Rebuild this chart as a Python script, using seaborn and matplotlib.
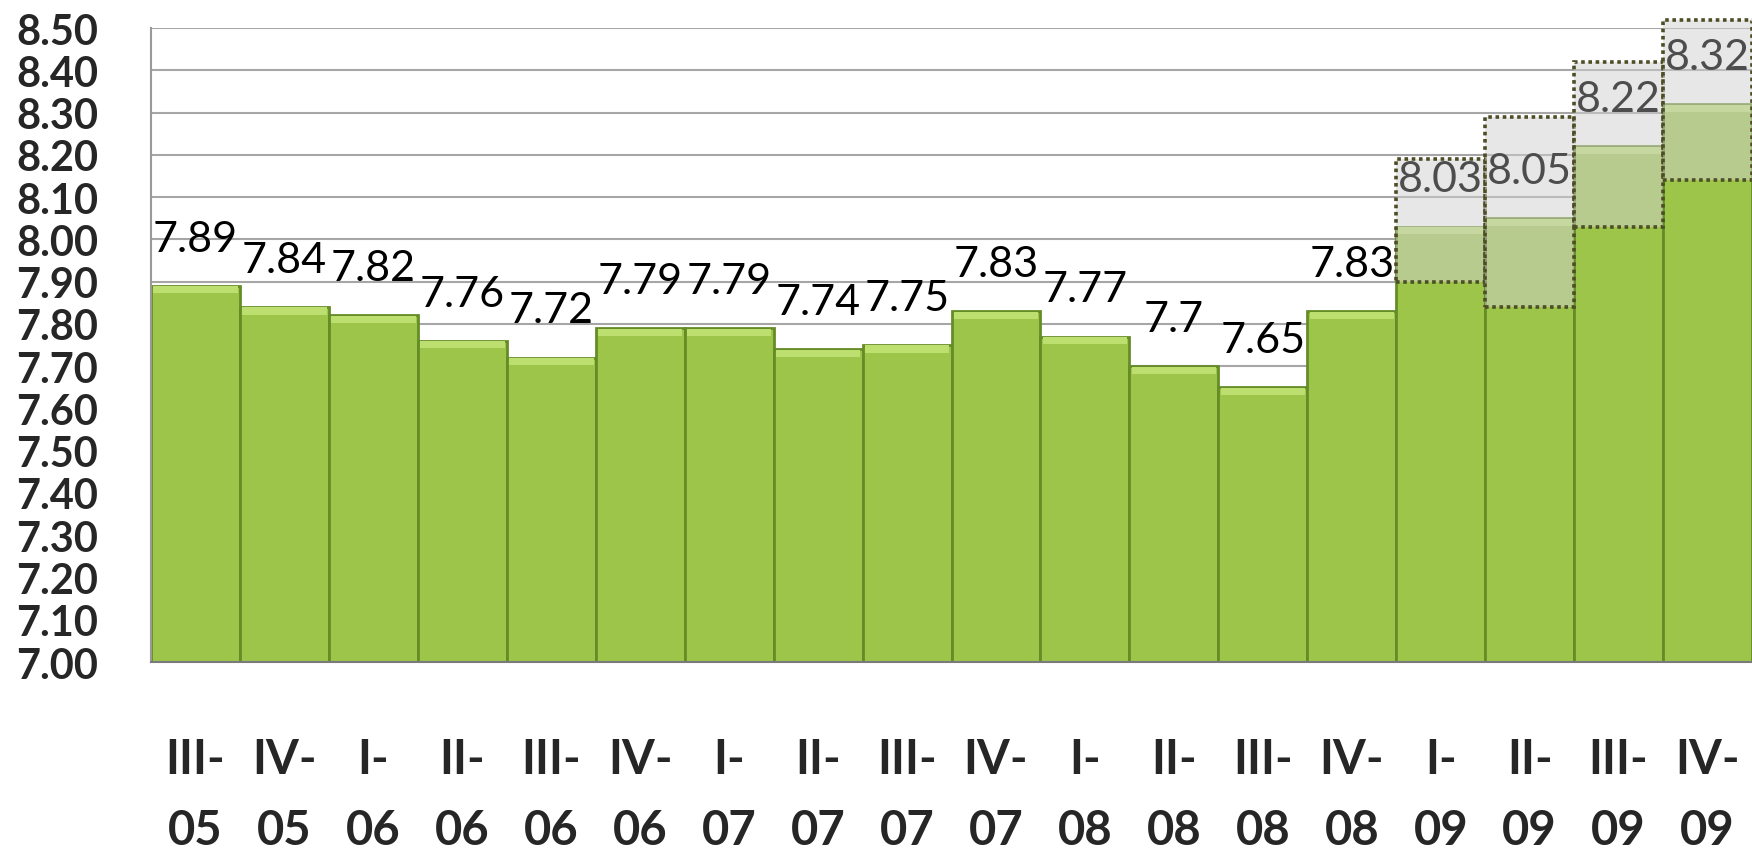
import numpy as np
import pandas as pd
import seaborn as sns
import matplotlib.pyplot as plt

# quarterly values
quarters = ["III-\n05", "IV-\n05", "I-\n06", "II-\n06", "III-\n06", "IV-\n06",
            "I-\n07", "II-\n07", "III-\n07", "IV-\n07", "I-\n08", "II-\n08",
            "III-\n08", "IV-\n08", "I-\n09", "II-\n09", "III-\n09", "IV-\n09"]
values = [7.89, 7.84, 7.82, 7.76, 7.72, 7.79, 7.79, 7.74, 7.75, 7.83, 7.77, 7.70,
          7.65, 7.83, 8.03, 8.05, 8.22, 8.32]
value_labels = ["7.89", "7.84", "7.82", "7.76", "7.72", "7.79", "7.79", "7.74", "7.75",
                "7.83", "7.77", "7.7", "7.65", "7.83", "8.03", "8.05", "8.22", "8.32"]

# forecast ranges for 2009 (dotted boxes)
forecast_idx = [14, 15, 16, 17]
forecast_low = [7.90, 7.84, 8.03, 8.14]
forecast_high = [8.19, 8.29, 8.42, 8.52]

df = pd.DataFrame({"quarter": quarters, "value": values})

sns.set_style("white")
plt.rcParams["font.family"] = ["Lato", "DejaVu Sans"]

fig = plt.figure(figsize=(17.52, 8.53), dpi=100)
ax = fig.add_axes([0.0862, 0.2227, 0.9138, 0.7433])

ax.set_axisbelow(True)
ax.yaxis.grid(True, color="#a6a6a6", linewidth=1.5)

sns.barplot(data=df, x="quarter", y="value", color="#9cc54a", width=1.0,
            edgecolor="#668c28", linewidth=2.0, saturation=1, ax=ax, zorder=2)

# light bevel on top of each bar
x = np.arange(len(values))
vals = np.array(values)
ax.bar(x, 0.017, bottom=vals - 0.018, width=0.95, color="#bddf70",
       linewidth=0, zorder=2.5)

# forecast range boxes
lo = np.array(forecast_low)
hi = np.array(forecast_high)
ax.bar(forecast_idx, hi - lo, bottom=lo, width=1.0, facecolor=(0.82, 0.82, 0.82, 0.5),
       edgecolor="#4d4d26", linestyle=(0, (1, 1)), linewidth=2.6, zorder=3, clip_on=False)

# value labels
for i, (v, lab) in enumerate(zip(values, value_labels)):
    col = "#4d4d4d" if i in forecast_idx else "black"
    ax.annotate(lab, (i, v), xytext=(0, 34), textcoords="offset points",
                ha="center", va="center", fontsize=31, color=col, zorder=4,
                annotation_clip=False)

ax.set_ylim(7.0, 8.5)
ax.set_xlim(-0.5, len(values) - 0.5)
ax.set_yticks(np.arange(7.0, 8.51, 0.1))
ax.set_yticklabels([f"{t:.2f}" for t in np.arange(7.0, 8.51, 0.1)],
                   fontsize=30, fontweight="bold")
ax.set_xticks(x)
ax.set_xticklabels(quarters, fontsize=34, fontweight="bold", linespacing=1.75)
ax.set_xticks(np.arange(-0.5, len(values), 1.0), minor=True)
ax.tick_params(axis="x", which="major", length=0, pad=54)
ax.tick_params(axis="x", which="minor", length=16, width=1.5, color="#999999", direction="out")
ax.tick_params(axis="y", length=16, width=1.5, color="#999999", direction="out", pad=22)
ax.set_xlabel("")
ax.set_ylabel("")

for s in ["top", "right"]:
    ax.spines[s].set_visible(False)
ax.spines["left"].set_color("#999999")
ax.spines["left"].set_linewidth(1.5)
ax.spines["bottom"].set_color("#7a7a7a")
ax.spines["bottom"].set_linewidth(1.5)

plt.savefig("out.png", dpi=100)
